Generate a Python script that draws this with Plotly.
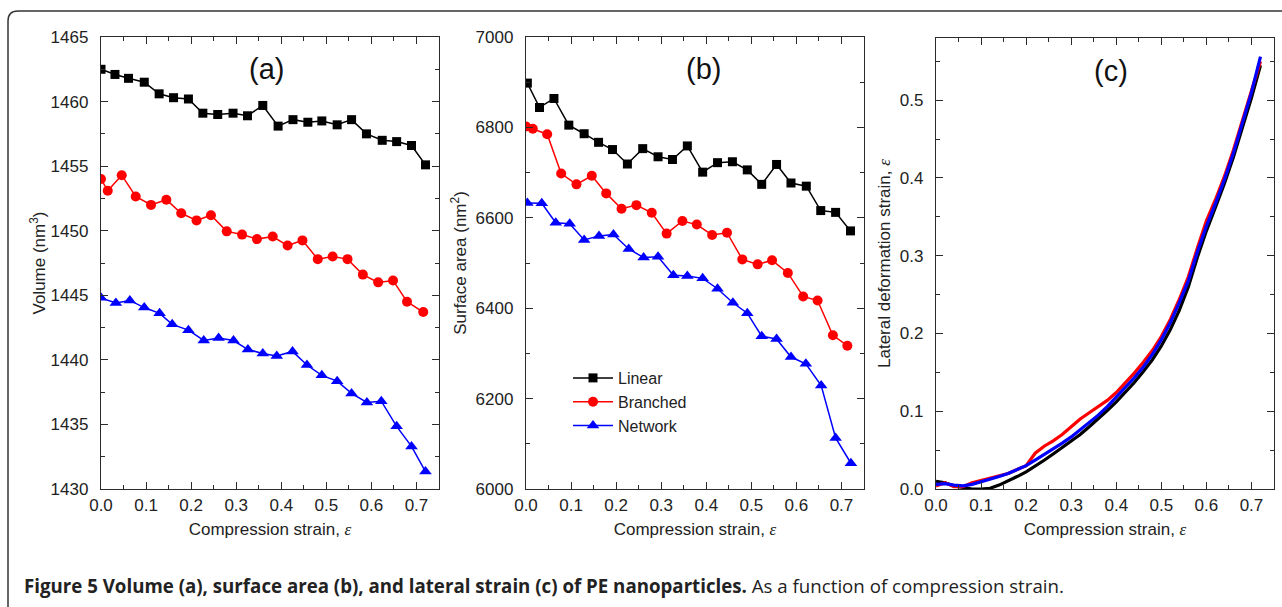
import plotly.graph_objects as go

# ---------------- data ----------------
# (a) Volume (nm^3)
xa_linear = [0.0, 0.031, 0.061, 0.096, 0.129, 0.161, 0.194, 0.226, 0.259, 0.293, 0.325, 0.359,
             0.393, 0.426, 0.459, 0.490, 0.524, 0.556, 0.589, 0.624, 0.656, 0.689, 0.720]
va_linear = [1462.5, 1462.1, 1461.8, 1461.5, 1460.6, 1460.3, 1460.2, 1459.1, 1459.0, 1459.1,
             1458.9, 1459.7, 1458.1, 1458.6, 1458.4, 1458.5, 1458.2, 1458.6, 1457.5, 1457.0,
             1456.9, 1456.6, 1455.1]
xa_branched = [0.0, 0.015, 0.046, 0.077, 0.111, 0.145, 0.178, 0.212, 0.244, 0.279, 0.313, 0.346,
               0.381, 0.414, 0.447, 0.481, 0.514, 0.547, 0.581, 0.615, 0.648, 0.679, 0.715]
va_branched = [1454.0, 1453.1, 1454.3, 1452.65, 1452.0, 1452.4, 1451.35, 1450.8, 1451.2, 1449.95,
               1449.7, 1449.35, 1449.55, 1448.85, 1449.25, 1447.8, 1448.0, 1447.8, 1446.6, 1446.0,
               1446.15, 1444.5, 1443.7]
xa_network = [0.0, 0.033, 0.064, 0.096, 0.130, 0.158, 0.194, 0.228, 0.261, 0.294, 0.326, 0.359,
              0.390, 0.425, 0.457, 0.490, 0.524, 0.556, 0.590, 0.622, 0.656, 0.689, 0.720]
va_network = [1444.8, 1444.4, 1444.6, 1444.05, 1443.6, 1442.75, 1442.3, 1441.5, 1441.7, 1441.5,
              1440.8, 1440.5, 1440.3, 1440.65, 1439.6, 1438.8, 1438.35, 1437.4, 1436.7, 1436.8,
              1434.85, 1433.3, 1431.35]

# (b) Surface area (nm^2)
xb_linear = [0.003, 0.030, 0.062, 0.095, 0.129, 0.161, 0.192, 0.225, 0.259, 0.293, 0.325, 0.358,
             0.392, 0.425, 0.458, 0.491, 0.523, 0.556, 0.588, 0.622, 0.654, 0.687, 0.720]
sb_linear = [6898, 6844, 6864, 6805, 6786, 6767, 6751, 6719, 6753, 6735, 6729, 6759, 6701, 6722,
             6724, 6706, 6674, 6718, 6677, 6670, 6616, 6612, 6571]
xb_branched = [0.0, 0.015, 0.047, 0.078, 0.112, 0.146, 0.178, 0.212, 0.245, 0.279, 0.312, 0.347,
               0.379, 0.413, 0.446, 0.480, 0.514, 0.546, 0.581, 0.615, 0.647, 0.681, 0.713]
sb_branched = [6802, 6797, 6785, 6698, 6674, 6693, 6654, 6620, 6628, 6611, 6565, 6593, 6585, 6562,
               6567, 6508, 6497, 6506, 6478, 6426, 6417, 6340, 6317]
xb_network = [0.003, 0.035, 0.066, 0.097, 0.129, 0.162, 0.194, 0.228, 0.261, 0.293, 0.327, 0.358,
              0.392, 0.425, 0.459, 0.491, 0.523, 0.556, 0.588, 0.621, 0.655, 0.687, 0.721]
sb_network = [6633, 6632, 6589, 6587, 6551, 6560, 6563, 6531, 6512, 6514, 6473, 6471, 6466, 6443,
              6412, 6389, 6338, 6332, 6292, 6277, 6229, 6113, 6057]

# (c) Lateral deformation strain
xc = [0.00, 0.02, 0.04, 0.06, 0.08, 0.10, 0.12, 0.14, 0.16, 0.18, 0.20, 0.22, 0.24, 0.26, 0.28,
      0.30, 0.32, 0.34, 0.36, 0.38, 0.40, 0.42, 0.44, 0.46, 0.48, 0.50, 0.52, 0.54, 0.56, 0.58,
      0.60, 0.62, 0.64, 0.66, 0.68, 0.70, 0.72]
lc_linear = [0.010, 0.008, 0.004, 0.002, 0.000, 0.000, 0.001, 0.005, 0.010, 0.016, 0.022, 0.029,
             0.037, 0.045, 0.053, 0.061, 0.070, 0.080, 0.090, 0.101, 0.112, 0.124, 0.137, 0.151,
             0.166, 0.184, 0.205, 0.230, 0.260, 0.298, 0.332, 0.362, 0.393, 0.427, 0.464, 0.503,
             0.545]
lc_branched = [0.004, 0.008, 0.003, 0.003, 0.008, 0.011, 0.013, 0.016, 0.020, 0.025, 0.030, 0.046,
               0.055, 0.062, 0.070, 0.080, 0.090, 0.098, 0.106, 0.114, 0.124, 0.136, 0.149, 0.163,
               0.178, 0.196, 0.218, 0.244, 0.273, 0.310, 0.345, 0.372, 0.402, 0.436, 0.474, 0.512,
               0.550]
lc_network = [0.006, 0.007, 0.005, 0.004, 0.006, 0.009, 0.012, 0.016, 0.020, 0.025, 0.030, 0.037,
              0.044, 0.051, 0.059, 0.067, 0.076, 0.085, 0.095, 0.106, 0.118, 0.130, 0.143, 0.157,
              0.173, 0.192, 0.214, 0.240, 0.268, 0.305, 0.338, 0.367, 0.398, 0.432, 0.470, 0.510,
              0.556]

series_names = ["Linear", "Branched", "Network"]
colors = ["#000000", "#ff0000", "#0000ff"]
symbols = ["square", "circle", "triangle-up"]
msizes = [9, 10, 11]

W, H = 1282, 607
FONT = "Liberation Sans, Arial, sans-serif"
AX = "#2b2b2b"

def px(x):
    return x / W

def py(y):
    return 1 - y / H

fig = go.Figure()

panel_a = [(xa_linear, va_linear), (xa_branched, va_branched), (xa_network, va_network)]
panel_b = [(xb_linear, sb_linear), (xb_branched, sb_branched), (xb_network, sb_network)]
panel_c = [lc_linear, lc_branched, lc_network]

for i, (xs, ys) in enumerate(panel_a):
    fig.add_trace(go.Scatter(x=xs, y=ys, mode="lines+markers", name=series_names[i],
                             line=dict(color=colors[i], width=1.5),
                             marker=dict(symbol=symbols[i], size=msizes[i], color=colors[i]),
                             xaxis="x", yaxis="y", showlegend=False))
for i, (xs, ys) in enumerate(panel_b):
    fig.add_trace(go.Scatter(x=xs, y=ys, mode="lines+markers", name=series_names[i],
                             line=dict(color=colors[i], width=1.5),
                             marker=dict(symbol=symbols[i], size=msizes[i], color=colors[i]),
                             xaxis="x2", yaxis="y2", showlegend=True))
for i, ys in enumerate(panel_c):
    fig.add_trace(go.Scatter(x=xc, y=ys, mode="lines", name=series_names[i],
                             line=dict(color=colors[i], width=3.2),
                             xaxis="x3", yaxis="y3", showlegend=False))

eps = '<span style="font-family:Liberation Serif"><i>ε</i></span>'

def xaxis_def(dom, anchor):
    return dict(domain=dom, anchor=anchor, range=[0, 0.75], dtick=0.1, tick0=0,
                tickformat=".1f", showline=True, linecolor=AX, linewidth=1.3, mirror="ticks",
                ticks="inside", ticklen=7, tickwidth=1.3, tickcolor=AX, automargin=False,
                minor=dict(ticks="inside", ticklen=4, dtick=0.05, tickwidth=1.3, tickcolor=AX),
                showgrid=False, zeroline=False, ticklabelstandoff=0,
                tickfont=dict(family=FONT, size=17, color="#222"),
                title=dict(text="Compression strain, " + eps, standoff=9,
                           font=dict(family=FONT, size=17, color="#222")))

def yaxis_def(dom, anchor, rng, dtick, minor, fmt, title, standoff):
    return dict(domain=dom, anchor=anchor, range=rng, dtick=dtick, tickformat=fmt,
                showline=True, linecolor=AX, linewidth=1.3, mirror="ticks",
                ticks="inside", ticklen=7, tickwidth=1.3, tickcolor=AX, automargin=False,
                minor=dict(ticks="inside", ticklen=4, dtick=minor, tickwidth=1.3, tickcolor=AX),
                showgrid=False, zeroline=False, ticklabelstandoff=8,
                tickfont=dict(family=FONT, size=17, color="#222"),
                title=dict(text=title, standoff=standoff,
                           font=dict(family=FONT, size=17, color="#222")))

ydom = [py(489), py(37)]
fig.update_layout(
    width=W, height=H, margin=dict(l=0, r=0, t=0, b=0, autoexpand=False),
    paper_bgcolor="white", plot_bgcolor="white",
    xaxis=xaxis_def([px(101), px(439)], "y"),
    yaxis=yaxis_def(ydom, "x", [1430, 1465], 5, 2.5, "d", "Volume (nm<sup>3</sup>)", 0),
    xaxis2=xaxis_def([px(526), px(864)], "y2"),
    yaxis2=yaxis_def(ydom, "x2", [6000, 7000], 200, 100, "d", "Surface area (nm<sup>2</sup>)", 4),
    xaxis3=xaxis_def([px(936), px(1274)], "y3"),
    yaxis3=yaxis_def([py(489), py(38)], "x3", [0, 0.58], 0.1, 0.05, ".1f",
                     "Lateral deformation strain, " + eps, 4),
    legend=dict(x=px(568), y=py(361), xanchor="left", yanchor="top",
                bgcolor="rgba(0,0,0,0)", borderwidth=0, tracegroupgap=0,
                font=dict(family=FONT, size=16, color="#222"), itemwidth=40),
    showlegend=True,
)

for lab, cx, cy in [("(a)", 266, 69), ("(b)", 703, 69), ("(c)", 1111, 71)]:
    fig.add_annotation(x=px(cx), y=py(cy), xref="paper", yref="paper", text=lab,
                       showarrow=False, xanchor="center", yanchor="middle",
                       font=dict(family=FONT, size=29, color="#111"))

fig.add_annotation(x=px(22), y=py(585), xref="paper", yref="paper", xanchor="left",
                   yanchor="middle", showarrow=False,
                   text="<b>Figure 5 Volume (a), surface area (b), and lateral strain (c) of PE nanoparticles.</b>"
                        " As a function of compression strain.",
                   font=dict(family="Open Sans, sans-serif", size=18.7, color="#222"))

# rounded frame (left side + top)
path = (f"M {px(8)},{py(607)} L {px(8)},{py(21)} "
        f"Q {px(8)},{py(11)} {px(18)},{py(11)} L {px(1282)},{py(11)}")
fig.add_shape(type="path", path=path, xref="paper", yref="paper",
              line=dict(color="#333", width=1.5))

fig.write_html("out.html")
